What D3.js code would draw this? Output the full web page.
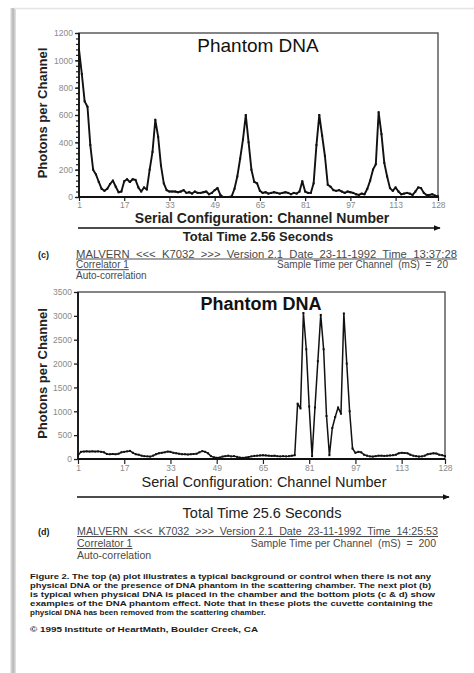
<!DOCTYPE html>
<html>
<head>
<meta charset="utf-8">
<script src="https://cdn.jsdelivr.net/npm/d3@7"></script>
<style>
  html, body { margin: 0; padding: 0; background: #fff; }
  svg { display: block; font-family: "Liberation Sans", Arial, sans-serif; }
</style>
</head>
<body>
<div id="chart"></div>
<script>
////////////////////////////////////////////////////////////////////
////////////////////////////  Data  ////////////////////////////////

const xTicks = [1, 17, 33, 49, 65, 81, 97, 113, 128];
const yTicksTop = [0, 200, 400, 600, 800, 1000, 1200];
const yTicksBottom = [0, 500, 1000, 1500, 2000, 2500, 3000, 3500];

// photons per channel, channels 1..128 (panel c, 20 mS)
const photonsTop = [
  1080, 900, 700, 660, 380, 200, 165, 110, 60, 45,
  60, 95, 120, 75, 35, 40, 115, 130, 110, 130,
  125, 70, 40, 70, 55, 200, 330, 565, 440, 230,
  100, 50, 40, 40, 40, 35, 40, 50, 30, 35,
  25, 40, 30, 30, 35, 40, 20, 30, 50, 65,
  15, 0, 0, 0, 5, 60, 150, 280, 420, 600,
  400, 200, 110, 100, 45, 30, 35, 25, 30, 35,
  30, 25, 30, 35, 30, 20, 30, 25, 40, 115,
  40, 30, 30, 100, 380, 600, 450, 300, 90, 75,
  50, 45, 50, 40, 30, 40, 35, 30, 20, 15,
  25, 20, 60, 120, 200, 240, 620, 460, 250, 150,
  65, 45, 70, 40, 20, 25, 30, 25, 15, 40,
  70, 65, 30, 15, 15, 20, 10, 5
];

// photons per channel, channels 1..128 (panel d, 200 mS)
const photonsBottom = [
  70, 150, 155, 160, 155, 160, 155, 160, 150, 140,
  105, 100, 105, 100, 110, 140, 150, 160, 170, 130,
  100, 90, 70, 60, 55, 50, 70, 100, 120, 130,
  140, 155, 150, 130, 120, 110, 100, 100, 95, 100,
  105, 110, 140, 165, 150, 120, 60, 35, 25, 30,
  50, 60, 70, 55, 60, 45, 30, 25, 30, 40,
  55, 65, 70, 75, 80, 75, 70, 65, 70, 60,
  55, 60, 55, 60, 70, 80, 1160, 1060, 3060, 2300,
  1100, 60, 1080, 2050, 3020, 2300, 900, 80, 650, 880,
  1080, 950, 3050, 2000, 1000, 220, 130, 150, 140, 90,
  70, 55, 50, 60, 70, 70, 65, 70, 75, 80,
  90, 120, 130, 125, 120, 90, 70, 60, 50, 55,
  70, 100, 110, 120, 115, 90, 80, 60
];

const captionLines = [
  "Figure 2. The top (a) plot illustrates a typical background or control when there is not any",
  "physical DNA or the presence of DNA phantom in the scattering chamber. The next plot (b)",
  "is typical when physical DNA is placed in the chamber and the bottom plots (c & d) show",
  "examples of the DNA phantom effect. Note that in these plots the cuvette containing the",
  "physical DNA has been removed from the scattering chamber."
];

////////////////////////////////////////////////////////////////////
////////////////////////////  Init  ////////////////////////////////

const width = 474;
const height = 673;

const svg = d3.select("#chart").append("svg")
  .attr("width", width)
  .attr("height", height);

svg.append("rect").attr("width", width).attr("height", height).attr("fill", "#fff");

// page edge
const grad = svg.append("defs").append("linearGradient").attr("id", "edge");
grad.append("stop").attr("offset", "0%").attr("stop-color", "#f2f2f2");
grad.append("stop").attr("offset", "50%").attr("stop-color", "#b4b4b4");
grad.append("stop").attr("offset", "100%").attr("stop-color", "#e6e6e6");
svg.append("rect").attr("x", 10).attr("y", 8).attr("width", 6).attr("height", height - 8).attr("fill", "url(#edge)");
svg.append("line").attr("x1", 14).attr("x2", width).attr("y1", 8.5).attr("y2", 8.5)
  .attr("stroke", "#e4e4e4").attr("stroke-width", 1.5);

svg.select("defs").append("marker")
  .attr("id", "arrow")
  .attr("viewBox", "0 0 10 10")
  .attr("refX", 9).attr("refY", 5)
  .attr("markerWidth", 7).attr("markerHeight", 7)
  .attr("markerUnits", "userSpaceOnUse")
  .attr("orient", "auto")
  .append("path").attr("d", "M0,1 L10,5 L0,9 Z").attr("fill", "#111");

////////////////////////////////////////////////////////////////////
////////////////////////////  Panels  //////////////////////////////

function drawPanel(p) {
  const g = svg.append("g");
  const x = d3.scaleLinear().domain([1, 128]).range([p.left, p.right]);
  const y = d3.scaleLinear().domain([0, p.yMax]).range([p.bottom, p.top]);

  // box
  g.append("rect")
    .attr("x", p.left).attr("y", p.top)
    .attr("width", p.right - p.left).attr("height", p.bottom - p.top)
    .attr("fill", "none").attr("stroke", "#444").attr("stroke-width", 1.3);

  // minor ticks
  if (p.minor) {
    g.append("g")
      .attr("transform", `translate(${p.left},0)`)
      .call(d3.axisLeft(y).tickValues(d3.range(0, p.yMax + 1, p.minor)).tickSize(3).tickFormat(""))
      .call((a) => a.select(".domain").remove())
      .selectAll("line").attr("stroke", "#222").attr("stroke-width", 1.2);
  }

  // y axis
  const ya = g.append("g")
    .attr("transform", `translate(${p.left},0)`)
    .call(d3.axisLeft(y).tickValues(p.yTicks).tickFormat(d3.format("d")).tickSize(4).tickPadding(2));
  ya.select(".domain").remove();
  ya.selectAll("line").attr("stroke", "#222").attr("stroke-width", 1.3);
  ya.selectAll("text").attr("fill", "#8a8a8a").style("font-size", "8.5px");

  // x axis
  const xa = g.append("g")
    .attr("transform", `translate(0,${p.bottom})`)
    .call(d3.axisBottom(x).tickValues(xTicks).tickFormat(d3.format("d")).tickSize(p.xTickSize).tickPadding(1));
  xa.select(".domain").remove();
  xa.selectAll("line").attr("stroke", "#222").attr("stroke-width", 1.2);
  xa.selectAll("text").attr("fill", "#8a8a8a").style("font-size", "8.5px");

  // heavy axis lines
  g.append("line").attr("x1", p.left).attr("x2", p.right).attr("y1", p.bottom).attr("y2", p.bottom)
    .attr("stroke", "#111").attr("stroke-width", 2.2);
  g.append("line").attr("x1", p.left).attr("x2", p.left).attr("y1", p.top).attr("y2", p.bottom)
    .attr("stroke", "#111").attr("stroke-width", 1.8);

  // trace
  const line = d3.line()
    .x((d, i) => x(i + 1))
    .y((d) => y(d));

  g.append("path")
    .datum(p.values)
    .attr("d", line)
    .attr("fill", "none")
    .attr("stroke", "#111")
    .attr("stroke-width", p.lineWidth)
    .attr("stroke-linejoin", "round");

  g.selectAll(".pt")
    .data(p.values)
    .join("rect")
    .attr("class", "pt")
    .attr("x", (d, i) => x(i + 1) - 1)
    .attr("y", (d) => y(d) - 1)
    .attr("width", 2).attr("height", 2)
    .attr("fill", "#111");

  // titles
  g.append("text")
    .attr("x", p.titleX).attr("y", p.titleY)
    .attr("text-anchor", "middle")
    .attr("fill", "#111")
    .style("font-size", p.titleSize + "px")
    .style("font-weight", p.titleWeight)
    .text("Phantom DNA");

  g.append("text")
    .attr("transform", `translate(47,${(p.top + p.bottom) / 2 - 2}) rotate(-90)`)
    .attr("text-anchor", "middle")
    .attr("fill", "#222")
    .style("font-size", "13px")
    .style("font-weight", "bold")
    .text("Photons per Channel");

  g.append("text")
    .attr("x", p.xLabelX).attr("y", p.xLabelY)
    .attr("text-anchor", "middle")
    .attr("fill", "#222")
    .style("font-size", p.xLabelSize + "px")
    .style("font-weight", p.xLabelWeight)
    .text("Serial Configuration: Channel Number");

  g.append("line")
    .attr("x1", p.left - 1).attr("x2", p.arrowEnd)
    .attr("y1", p.arrowY).attr("y2", p.arrowY)
    .attr("stroke", "#111").attr("stroke-width", 1.6)
    .attr("marker-end", "url(#arrow)");

  g.append("text")
    .attr("x", p.timeX).attr("y", p.timeY)
    .attr("text-anchor", "middle")
    .attr("fill", "#222")
    .style("font-size", p.timeSize + "px")
    .style("font-weight", p.timeWeight)
    .text(p.timeText);

  // instrument block
  const info = g.append("g")
    .attr("fill", "#4a4a4a")
    .style("font-size", p.infoSize + "px");
  info.append("text")
    .attr("x", 38).attr("y", p.infoY)
    .attr("fill", "#222").style("font-weight", "bold").style("font-size", "9px")
    .text(p.tag);
  info.append("text")
    .attr("x", p.infoX).attr("y", p.infoY)
    .attr("xml:space", "preserve")
    .attr("textLength", p.infoRight - p.infoX).attr("lengthAdjust", "spacingAndGlyphs")
    .style("text-decoration", "underline")
    .text(p.malvern);
  info.append("text")
    .attr("x", p.infoX).attr("y", p.infoY + p.infoStep)
    .style("text-decoration", "underline")
    .text("Correlator 1");
  info.append("text")
    .attr("x", p.sampleRight).attr("y", p.infoY + p.infoStep)
    .attr("xml:space", "preserve")
    .attr("text-anchor", "end")
    .text(p.sampleText);
  info.append("text")
    .attr("x", p.infoX).attr("y", p.infoY + p.infoStep * 2)
    .text("Auto-correlation");
}

drawPanel({
  values: photonsTop, yMax: 1200, yTicks: yTicksTop, minor: 40,
  left: 79, right: 438, top: 33, bottom: 197, xTickSize: 4, lineWidth: 1.9,
  titleX: 258, titleY: 52, titleSize: 19, titleWeight: "normal",
  xLabelX: 262, xLabelY: 222.5, xLabelSize: 14, xLabelWeight: "bold",
  arrowY: 228, arrowEnd: 440,
  timeX: 258, timeY: 241, timeSize: 13, timeWeight: "bold", timeText: "Total Time 2.56 Seconds",
  tag: "(c)", infoX: 76, infoRight: 457, infoY: 257.5, infoStep: 10.7, infoSize: 10,
  sampleRight: 448, sampleText: "Sample Time per Channel  (mS)  =  20",
  malvern: "MALVERN  <<<  K7032  >>>  Version 2.1  Date  23-11-1992  Time  13:37:28"
});

drawPanel({
  values: photonsBottom, yMax: 3500, yTicks: yTicksBottom, minor: 0,
  left: 78, right: 445, top: 292, bottom: 459, xTickSize: 5, lineWidth: 1.5,
  titleX: 261, titleY: 310, titleSize: 18, titleWeight: "bold",
  xLabelX: 264, xLabelY: 487, xLabelSize: 14.5, xLabelWeight: "normal",
  arrowY: 497, arrowEnd: 449,
  timeX: 262, timeY: 518, timeSize: 14.5, timeWeight: "normal", timeText: "Total Time 25.6 Seconds",
  tag: "(d)", infoX: 77, infoRight: 438, infoY: 535, infoStep: 12, infoSize: 10.5,
  sampleRight: 436, sampleText: "Sample Time per Channel  (mS)  =  200",
  malvern: "MALVERN  <<<  K7032  >>>  Version 2.1  Date  23-11-1992  Time  14:25:53"
});

////////////////////////////////////////////////////////////////////
////////////////////////////  Caption  /////////////////////////////

const cap = svg.append("g")
  .attr("fill", "#1a1a1a")
  .style("font-size", "8px")
  .style("font-weight", "bold");

cap.selectAll("text")
  .data(captionLines)
  .join("text")
  .attr("x", 30)
  .attr("y", (d, i) => 579 + i * 9.1)
  .attr("textLength", (d, i) => (i < 4 ? [401, 401, 405, 403][i] : null))
  .attr("lengthAdjust", "spacingAndGlyphs")
  .text((d) => d);

cap.append("text")
  .attr("x", 30).attr("y", 632)
  .attr("textLength", 228).attr("lengthAdjust", "spacingAndGlyphs")
  .text("© 1995 Institute of HeartMath, Boulder Creek, CA");
</script>
</body>
</html>
